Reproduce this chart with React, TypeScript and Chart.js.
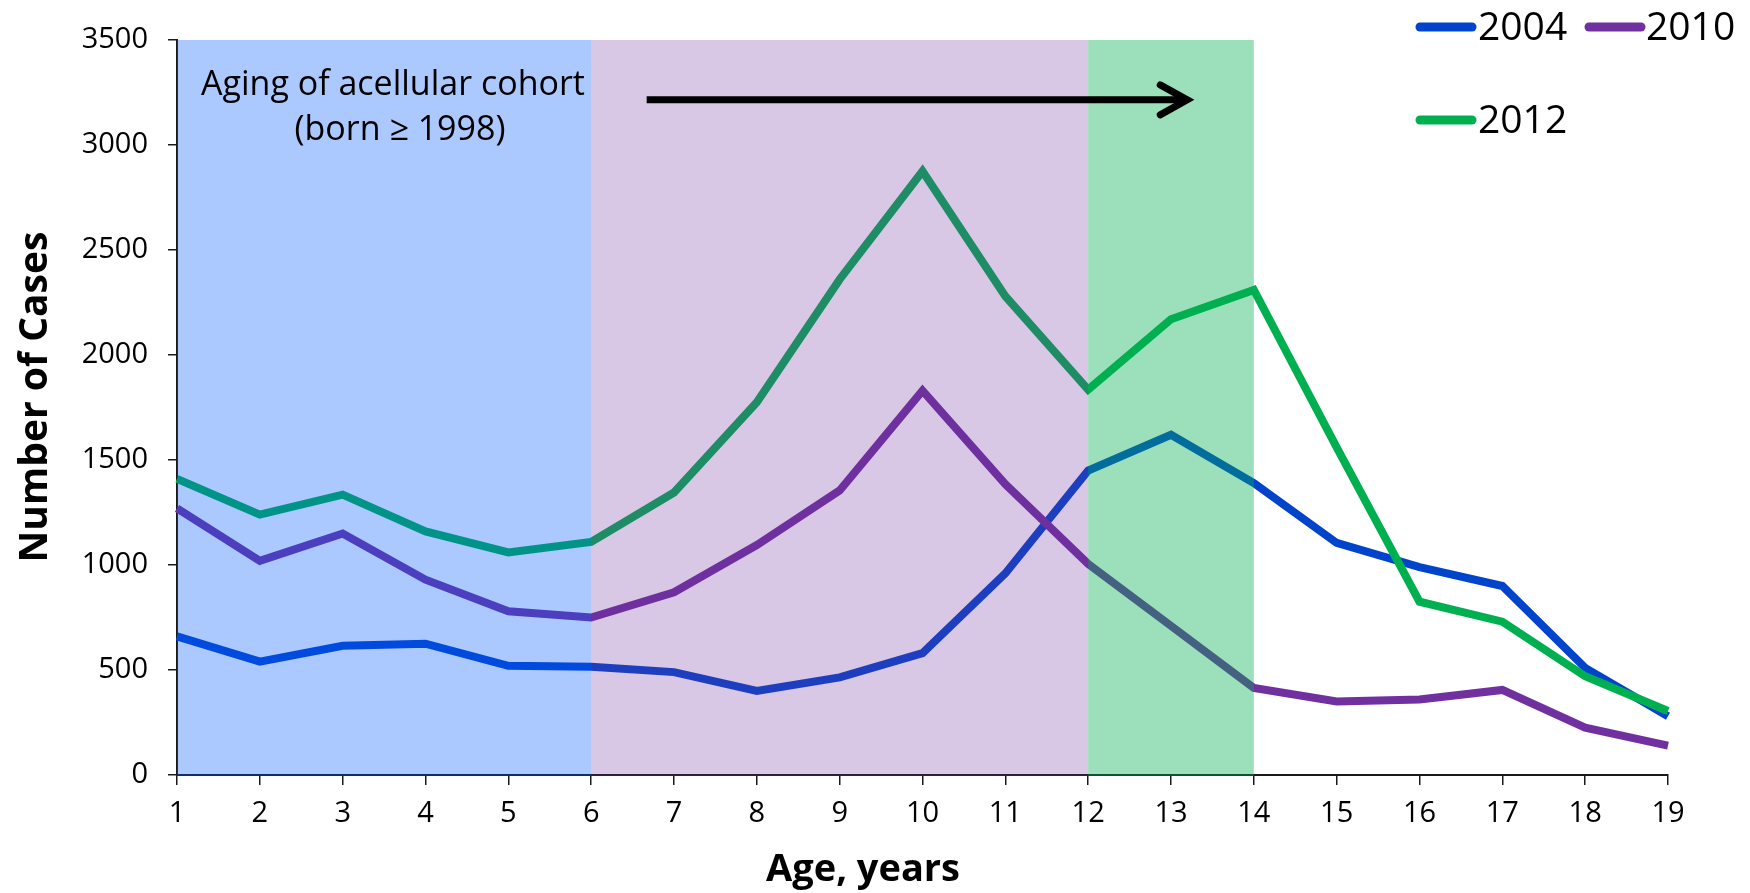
import React, { useEffect, useRef } from "react";
import { Chart, registerables } from "chart.js";

Chart.register(...registerables);

// ---- data ----
const ages = ["1", "2", "3", "4", "5", "6", "7", "8", "9", "10", "11", "12", "13", "14", "15", "16", "17", "18", "19"];
const cases2004 = [660, 540, 615, 625, 520, 515, 490, 400, 465, 580, 960, 1450, 1620, 1390, 1105, 990, 900, 510, 280];
const cases2010 = [1270, 1020, 1150, 930, 780, 750, 870, 1095, 1355, 1830, 1385, 1005, 710, 415, 350, 360, 405, 225, 140];
const cases2012 = [1410, 1240, 1335, 1160, 1060, 1110, 1345, 1775, 2360, 2875, 2280, 1835, 2170, 2310, 1560, 825, 730, 470, 305];
const seriesLabels = ["2004", "2010", "2012"];
const yMin = 0;
const yMax = 3500;
const yStep = 500;
const bandStartAges = ["1", "6", "12"];
const bandEndAges = ["6", "12", "14"];
const annotationLines = ["Aging of acellular cohort", "(born \u2265 1998)"];
const xTitleText = "Age, years";
const yTitleText = "Number of Cases";

// ---- styles ----
const seriesColors = ["#0044CC", "#7030A0", "#00B050"];
const bandColors = ["rgba(0, 90, 255, 0.33)", "rgba(112, 48, 160, 0.27)", "rgba(0, 176, 80, 0.39)"];
const FONT = "'Open Sans', 'Noto Sans', sans-serif";

const overlayPlugin = {
  id: "overlayPlugin",
  afterDraw(chart: any) {
    const { ctx, scales } = chart;
    const x = scales.x;
    const y = scales.y;
    ctx.save();
    // shaded age bands (drawn over lines, tinting them)
    const top = y.getPixelForValue(yMax);
    const bottom = y.getPixelForValue(yMin) + 1;
    bandStartAges.forEach((s, i) => {
      const x0 = x.getPixelForValue(ages.indexOf(s));
      const x1 = x.getPixelForValue(ages.indexOf(bandEndAges[i]));
      ctx.fillStyle = bandColors[i];
      ctx.fillRect(x0, top, x1 - x0, bottom - top);
    });

    // annotation text
    ctx.fillStyle = "#000";
    ctx.font = `34px ${FONT}`;
    ctx.textAlign = "center";
    ctx.textBaseline = "alphabetic";
    ctx.fillText(annotationLines[0], 393, 95);
    ctx.fillText(annotationLines[1], 400, 140);

    // arrow
    const ax0 = x.getPixelForValue(5.67);
    const ax1 = x.getPixelForValue(12.22);
    const ay = y.getPixelForValue(3215);
    ctx.strokeStyle = "#000";
    ctx.lineWidth = 7;
    ctx.lineCap = "butt";
    ctx.beginPath();
    ctx.moveTo(ax0, ay);
    ctx.lineTo(ax1 - 4, ay);
    ctx.stroke();
    ctx.lineCap = "round";
    ctx.lineJoin = "miter";
    ctx.beginPath();
    ctx.moveTo(ax1 - 29, ay - 15);
    ctx.lineTo(ax1 - 2, ay);
    ctx.lineTo(ax1 - 29, ay + 15);
    ctx.stroke();

    // axis titles
    ctx.font = `bold 38px ${FONT}`;
    ctx.textAlign = "center";
    ctx.textBaseline = "alphabetic";
    ctx.fillText(xTitleText, 863, 881);
    ctx.save();
    ctx.translate(47, 397);
    ctx.rotate(-Math.PI / 2);
    ctx.font = `bold 39px ${FONT}`;
    ctx.fillText(yTitleText, 0, 0);
    ctx.restore();

    // legend
    const legendPos = [
      { lx: 1420, ly: 27, tx: 1478, ty: 40 },
      { lx: 1589, ly: 27, tx: 1646, ty: 40 },
      { lx: 1420, ly: 120, tx: 1478, ty: 133 },
    ];
    chart.data.datasets.forEach((ds: any, i: number) => {
      const p = legendPos[i];
      ctx.strokeStyle = ds.borderColor;
      ctx.lineWidth = 9;
      ctx.lineCap = "round";
      ctx.beginPath();
      ctx.moveTo(p.lx, p.ly);
      ctx.lineTo(p.lx + 52, p.ly);
      ctx.stroke();
      ctx.fillStyle = "#000";
      ctx.font = `39px ${FONT}`;
      ctx.textAlign = "left";
      ctx.textBaseline = "alphabetic";
      ctx.fillText(ds.label, p.tx, p.ty);
    });
    ctx.restore();
  },
};

export default function App() {
  const canvasRef = useRef<HTMLCanvasElement | null>(null);

  useEffect(() => {
    const canvas = canvasRef.current;
    if (!canvas) return;
    const seriesData = [cases2004, cases2010, cases2012];
    const chart = new Chart(canvas, {
      type: "line",
      data: {
        labels: ages,
        datasets: seriesLabels.map((label, i) => ({
          label,
          data: seriesData[i],
          borderColor: seriesColors[i],
          backgroundColor: seriesColors[i],
          borderWidth: 8,
          pointRadius: 0,
          tension: 0,
          fill: false,
          borderJoinStyle: "miter" as const,
          borderCapStyle: "butt" as const,
          order: [2, 1, 0][i],
        })),
      },
      options: {
        responsive: false,
        animation: false,
        events: [],
        layout: { padding: { top: 40, right: 82, left: 0, bottom: 0 } },
        plugins: {
          legend: { display: false },
          tooltip: { enabled: false },
          title: { display: false },
        },
        scales: {
          x: {
            type: "category",
            offset: false,
            border: { display: true, color: "#1a1a1a", width: 2 },
            grid: { display: true, drawOnChartArea: false, drawTicks: true, tickLength: 10, color: "#1a1a1a", lineWidth: 1.5 },
            ticks: {
              color: "#000",
              font: { family: FONT, size: 29 },
              padding: 11,
              autoSkip: false,
              maxRotation: 0,
            },
            afterFit: (s: any) => {
              s.height = 118;
            },
          },
          y: {
            type: "linear",
            min: yMin,
            max: yMax,
            border: { display: true, color: "#1a1a1a", width: 2 },
            grid: { display: true, drawOnChartArea: false, drawTicks: true, tickLength: 9, color: "#1a1a1a", lineWidth: 1.5 },
            ticks: {
              stepSize: yStep,
              color: "#000",
              font: { family: FONT, size: 29 },
              padding: 20,
              callback: (v: any) => String(v),
            },
            afterFit: (s: any) => {
              s.width = 177;
            },
          },
        },
      },
      plugins: [overlayPlugin],
    });
    return () => chart.destroy();
  }, []);

  return (
    <div style={{ position: "absolute", left: 0, top: 0, width: 1750, height: 893, background: "#fff" }}>
      <canvas ref={canvasRef} width={1750} height={893} style={{ display: "block" }} />
    </div>
  );
}
